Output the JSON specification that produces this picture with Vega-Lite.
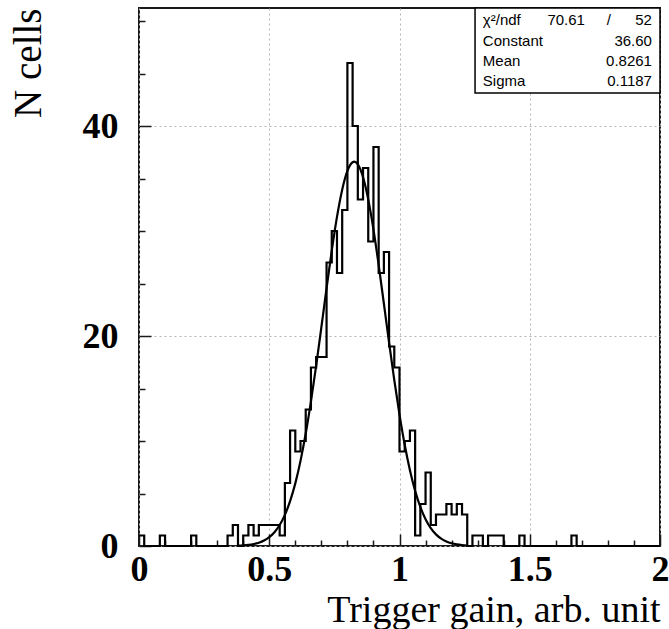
{
  "$schema": "https://vega.github.io/schema/vega-lite/v6.json",
  "width": 521,
  "height": 538,
  "autosize": {"type": "none"},
  "padding": {"left": 139, "top": 8, "right": 9, "bottom": 83},
  "background": "white",
  "config": {
    "view": {"stroke": "#1a1a1a", "strokeWidth": 2},
    "axis": {
      "domain": false,
      "labelFont": "Liberation Serif",
      "labelFontWeight": "bold",
      "labelFontSize": 36,
      "labelColor": "black",
      "titleFont": "Liberation Serif",
      "titleFontWeight": "normal",
      "titleFontSize": 38,
      "titleColor": "black",
      "tickColor": "#1a1a1a",
      "tickWidth": 1.5
    }
  },
  "datasets": {
    "hist": [
      {"lo": 0, "n": 1}, {"lo": 0.02, "n": 0}, {"lo": 0.04, "n": 0}, {"lo": 0.06, "n": 0}, {"lo": 0.08, "n": 1},
      {"lo": 0.1, "n": 0}, {"lo": 0.12, "n": 0}, {"lo": 0.14, "n": 0}, {"lo": 0.16, "n": 0}, {"lo": 0.18, "n": 0},
      {"lo": 0.2, "n": 1}, {"lo": 0.22, "n": 0}, {"lo": 0.24, "n": 0}, {"lo": 0.26, "n": 0}, {"lo": 0.28, "n": 0},
      {"lo": 0.3, "n": 0}, {"lo": 0.32, "n": 0}, {"lo": 0.34, "n": 1}, {"lo": 0.36, "n": 2}, {"lo": 0.38, "n": 0},
      {"lo": 0.4, "n": 1}, {"lo": 0.42, "n": 2}, {"lo": 0.44, "n": 1}, {"lo": 0.46, "n": 2}, {"lo": 0.48, "n": 2},
      {"lo": 0.5, "n": 2}, {"lo": 0.52, "n": 2}, {"lo": 0.54, "n": 1}, {"lo": 0.56, "n": 6}, {"lo": 0.58, "n": 11},
      {"lo": 0.6, "n": 9}, {"lo": 0.62, "n": 10}, {"lo": 0.64, "n": 13}, {"lo": 0.66, "n": 17}, {"lo": 0.68, "n": 18},
      {"lo": 0.7, "n": 18}, {"lo": 0.72, "n": 27}, {"lo": 0.74, "n": 30}, {"lo": 0.76, "n": 26}, {"lo": 0.78, "n": 32},
      {"lo": 0.8, "n": 46}, {"lo": 0.82, "n": 40}, {"lo": 0.84, "n": 33}, {"lo": 0.86, "n": 36}, {"lo": 0.88, "n": 29},
      {"lo": 0.9, "n": 38}, {"lo": 0.92, "n": 26}, {"lo": 0.94, "n": 28}, {"lo": 0.96, "n": 19}, {"lo": 0.98, "n": 17},
      {"lo": 1, "n": 9}, {"lo": 1.02, "n": 10}, {"lo": 1.04, "n": 11}, {"lo": 1.06, "n": 1}, {"lo": 1.08, "n": 4},
      {"lo": 1.1, "n": 7}, {"lo": 1.12, "n": 2}, {"lo": 1.14, "n": 3}, {"lo": 1.16, "n": 3}, {"lo": 1.18, "n": 4},
      {"lo": 1.2, "n": 3}, {"lo": 1.22, "n": 4}, {"lo": 1.24, "n": 3}, {"lo": 1.26, "n": 0}, {"lo": 1.28, "n": 1},
      {"lo": 1.3, "n": 1}, {"lo": 1.32, "n": 0}, {"lo": 1.34, "n": 1}, {"lo": 1.36, "n": 1}, {"lo": 1.38, "n": 1},
      {"lo": 1.4, "n": 0}, {"lo": 1.42, "n": 0}, {"lo": 1.44, "n": 0}, {"lo": 1.46, "n": 1}, {"lo": 1.48, "n": 0},
      {"lo": 1.5, "n": 0}, {"lo": 1.52, "n": 0}, {"lo": 1.54, "n": 0}, {"lo": 1.56, "n": 0}, {"lo": 1.58, "n": 0},
      {"lo": 1.6, "n": 0}, {"lo": 1.62, "n": 0}, {"lo": 1.64, "n": 0}, {"lo": 1.66, "n": 1}, {"lo": 1.68, "n": 0},
      {"lo": 1.7, "n": 0}, {"lo": 1.72, "n": 0}, {"lo": 1.74, "n": 0}, {"lo": 1.76, "n": 0}, {"lo": 1.78, "n": 0},
      {"lo": 1.8, "n": 0}, {"lo": 1.82, "n": 0}, {"lo": 1.84, "n": 0}, {"lo": 1.86, "n": 0}, {"lo": 1.88, "n": 0},
      {"lo": 1.9, "n": 0}, {"lo": 1.92, "n": 0}, {"lo": 1.94, "n": 0}, {"lo": 1.96, "n": 0}, {"lo": 1.98, "n": 0},
      {"lo": 2, "n": 0}
    ],
    "fit": [
      {"x": 0.38, "g": 0.031}, {"x": 0.40, "g": 0.058}, {"x": 0.42, "g": 0.105}, {"x": 0.44, "g": 0.184},
      {"x": 0.46, "g": 0.315}, {"x": 0.48, "g": 0.522}, {"x": 0.50, "g": 0.841}, {"x": 0.52, "g": 1.317},
      {"x": 0.54, "g": 2.004}, {"x": 0.56, "g": 2.966}, {"x": 0.58, "g": 4.266}, {"x": 0.60, "g": 5.965},
      {"x": 0.62, "g": 8.106}, {"x": 0.64, "g": 10.709}, {"x": 0.66, "g": 13.751}, {"x": 0.68, "g": 17.161},
      {"x": 0.70, "g": 20.816}, {"x": 0.72, "g": 24.548}, {"x": 0.74, "g": 28.133}, {"x": 0.76, "g": 31.344},
      {"x": 0.78, "g": 33.941}, {"x": 0.80, "g": 35.726}, {"x": 0.82, "g": 36.552}, {"x": 0.8261, "g": 36.6},
      {"x": 0.84, "g": 36.350}, {"x": 0.86, "g": 35.137}, {"x": 0.88, "g": 33.015}, {"x": 0.90, "g": 30.152},
      {"x": 0.92, "g": 26.766}, {"x": 0.94, "g": 23.096}, {"x": 0.96, "g": 19.373}, {"x": 0.98, "g": 15.793},
      {"x": 1.00, "g": 12.515}, {"x": 1.02, "g": 9.638}, {"x": 1.04, "g": 7.217}, {"x": 1.06, "g": 5.251},
      {"x": 1.08, "g": 3.715}, {"x": 1.10, "g": 2.555}, {"x": 1.12, "g": 1.707}, {"x": 1.14, "g": 1.109},
      {"x": 1.16, "g": 0.700}, {"x": 1.18, "g": 0.430}, {"x": 1.20, "g": 0.257}, {"x": 1.22, "g": 0.149},
      {"x": 1.24, "g": 0.084}, {"x": 1.26, "g": 0.046}
    ]
  },
  "layer": [
    {
      "data": {"name": "hist"},
      "mark": {"type": "line", "interpolate": "step-after", "color": "black", "strokeWidth": 2.2},
      "encoding": {
        "x": {
          "field": "lo", "type": "quantitative",
          "scale": {"domain": [0, 2], "nice": false, "zero": false},
          "axis": {
            "orient": "bottom", "values": [0, 0.5, 1, 1.5, 2], "format": "~g",
            "ticks": false, "grid": true, "gridDash": [2, 3], "gridColor": "#b4b4b4",
            "labelPadding": 6, "labelFlush": false,
            "title": "Trigger gain, arb. unit", "titleAnchor": "end", "titlePadding": 4
          }
        },
        "y": {
          "field": "n", "type": "quantitative",
          "scale": {"domain": [0, 51.24], "nice": false},
          "axis": {
            "orient": "left", "values": [0, 20, 40],
            "ticks": false, "grid": true, "gridDash": [2, 3], "gridColor": "#b4b4b4",
            "labelPadding": 21, "labelFlush": false,
            "title": "N cells", "titleFontSize": 39, "titleAnchor": "end", "titlePadding": 34
          }
        }
      }
    },
    {
      "data": {"name": "fit"},
      "mark": {"type": "line", "interpolate": "monotone", "color": "black", "strokeWidth": 2.2},
      "encoding": {
        "x": {
          "field": "x", "type": "quantitative",
          "axis": {"orient": "bottom", "values": [0, 0.5, 1, 1.5, 2], "labels": false, "grid": false, "title": null, "tickSize": -12}
        },
        "y": {
          "field": "g", "type": "quantitative",
          "axis": {"orient": "left", "values": [0, 20, 40], "labels": false, "grid": false, "title": null, "tickSize": -12}
        }
      }
    },
    {
      "data": {"name": "hist"},
      "mark": {"type": "point", "opacity": 0},
      "encoding": {
        "x": {
          "field": "lo", "type": "quantitative",
          "axis": {"orient": "bottom", "values": [0.1, 0.2, 0.3, 0.4, 0.6, 0.7, 0.8, 0.9, 1.1, 1.2, 1.3, 1.4, 1.6, 1.7, 1.8, 1.9], "labels": false, "grid": false, "title": null, "tickSize": -6}
        },
        "y": {
          "field": "n", "type": "quantitative",
          "axis": {"orient": "left", "values": [5, 10, 15, 25, 30, 35, 45, 50], "labels": false, "grid": false, "title": null, "tickSize": -6}
        }
      }
    },
    {
      "data": {"values": [{"box": "stats"}]},
      "mark": {"type": "rect", "fill": "white", "stroke": "black", "strokeWidth": 1.5},
      "encoding": {
        "x": {"datum": 1.29, "type": "quantitative", "axis": null},
        "x2": {"datum": 2},
        "y": {"datum": 43.14, "type": "quantitative", "axis": null},
        "y2": {"datum": 51.24}
      }
    },
    {
      "data": {"values": [{"label": "χ²/ndf", "fitval": "70.61", "sep": "/", "value": "52"}]},
      "layer": [
        {"mark": {"type": "text", "align": "left", "baseline": "middle", "font": "Liberation Sans", "fontSize": 15, "color": "black"},
         "encoding": {"x": {"datum": 1.32, "type": "quantitative", "axis": null}, "y": {"datum": 50.14, "type": "quantitative", "axis": null}, "text": {"field": "label"}}},
        {"mark": {"type": "text", "align": "right", "baseline": "middle", "font": "Liberation Sans", "fontSize": 15, "color": "black"},
         "encoding": {"x": {"datum": 1.712, "type": "quantitative", "axis": null}, "y": {"datum": 50.14, "type": "quantitative", "axis": null}, "text": {"field": "fitval"}}},
        {"mark": {"type": "text", "align": "center", "baseline": "middle", "font": "Liberation Sans", "fontSize": 15, "color": "black"},
         "encoding": {"x": {"datum": 1.804, "type": "quantitative", "axis": null}, "y": {"datum": 50.14, "type": "quantitative", "axis": null}, "text": {"field": "sep"}}},
        {"mark": {"type": "text", "align": "right", "baseline": "middle", "font": "Liberation Sans", "fontSize": 15, "color": "black"},
         "encoding": {"x": {"datum": 1.969, "type": "quantitative", "axis": null}, "y": {"datum": 50.14, "type": "quantitative", "axis": null}, "text": {"field": "value"}}}
      ]
    },
    {
      "data": {"values": [{"label": "Constant", "value": "36.60"}]},
      "layer": [
        {"mark": {"type": "text", "align": "left", "baseline": "middle", "font": "Liberation Sans", "fontSize": 15, "color": "black"},
         "encoding": {"x": {"datum": 1.32, "type": "quantitative", "axis": null}, "y": {"datum": 48.14, "type": "quantitative", "axis": null}, "text": {"field": "label"}}},
        {"mark": {"type": "text", "align": "right", "baseline": "middle", "font": "Liberation Sans", "fontSize": 15, "color": "black"},
         "encoding": {"x": {"datum": 1.969, "type": "quantitative", "axis": null}, "y": {"datum": 48.14, "type": "quantitative", "axis": null}, "text": {"field": "value"}}}
      ]
    },
    {
      "data": {"values": [{"label": "Mean", "value": "0.8261"}]},
      "layer": [
        {"mark": {"type": "text", "align": "left", "baseline": "middle", "font": "Liberation Sans", "fontSize": 15, "color": "black"},
         "encoding": {"x": {"datum": 1.32, "type": "quantitative", "axis": null}, "y": {"datum": 46.19, "type": "quantitative", "axis": null}, "text": {"field": "label"}}},
        {"mark": {"type": "text", "align": "right", "baseline": "middle", "font": "Liberation Sans", "fontSize": 15, "color": "black"},
         "encoding": {"x": {"datum": 1.969, "type": "quantitative", "axis": null}, "y": {"datum": 46.19, "type": "quantitative", "axis": null}, "text": {"field": "value"}}}
      ]
    },
    {
      "data": {"values": [{"label": "Sigma", "value": "0.1187"}]},
      "layer": [
        {"mark": {"type": "text", "align": "left", "baseline": "middle", "font": "Liberation Sans", "fontSize": 15, "color": "black"},
         "encoding": {"x": {"datum": 1.32, "type": "quantitative", "axis": null}, "y": {"datum": 44.24, "type": "quantitative", "axis": null}, "text": {"field": "label"}}},
        {"mark": {"type": "text", "align": "right", "baseline": "middle", "font": "Liberation Sans", "fontSize": 15, "color": "black"},
         "encoding": {"x": {"datum": 1.969, "type": "quantitative", "axis": null}, "y": {"datum": 44.24, "type": "quantitative", "axis": null}, "text": {"field": "value"}}}
      ]
    }
  ],
  "resolve": {"axis": {"x": "independent", "y": "independent"}}
}
